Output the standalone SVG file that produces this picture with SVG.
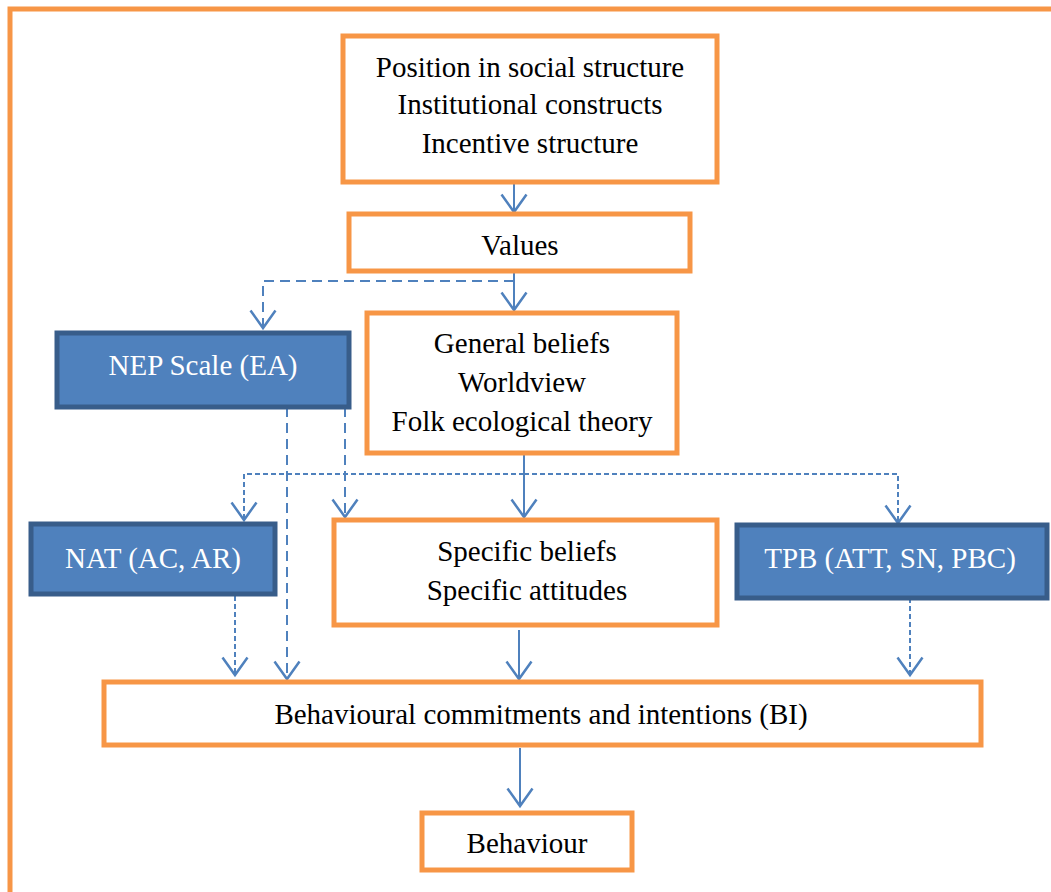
<svg xmlns="http://www.w3.org/2000/svg" width="1051" height="892" viewBox="0 0 1051 892">
<defs>
<marker id="ar" markerUnits="userSpaceOnUse" markerWidth="30" markerHeight="30" viewBox="-16 -12 20 24" refX="0" refY="0" orient="auto">
<path d="M-14,-10 L0,0 L-14,10" fill="none" stroke="#4F81BD" stroke-width="2"/>
</marker>
</defs>
<rect x="10" y="9" width="1060" height="900" fill="none" stroke="#F79646" stroke-width="5"/>
<g id="connectors" fill="none" stroke="#4F81BD" stroke-width="2">
<path d="M514,182 V212" marker-end="url(#ar)"/>
<path d="M514,271 V310" marker-end="url(#ar)"/>
<path d="M514,281 H263 V328" stroke-dasharray="10 6" marker-end="url(#ar)"/>
<path d="M287,407 V679" stroke-dasharray="10 6" marker-end="url(#ar)"/>
<path d="M345,407 V517" stroke-dasharray="10 6" marker-end="url(#ar)"/>
<path d="M524,453 V517" marker-end="url(#ar)"/>
<path d="M524,474 H244 V520" stroke-dasharray="5 3" marker-end="url(#ar)"/>
<path d="M524,474 H898 V523" stroke-dasharray="5 3" marker-end="url(#ar)"/>
<path d="M235,596 V675" stroke-dasharray="5 3" marker-end="url(#ar)"/>
<path d="M519,630 V679" marker-end="url(#ar)"/>
<path d="M910,598 V675" stroke-dasharray="5 3" marker-end="url(#ar)"/>
<path d="M520,748 V806" marker-end="url(#ar)"/>
</g>
<g id="social">
<rect x="343" y="36" width="374" height="146" fill="#fff" stroke="#F79646" stroke-width="5"/>
<text x="530" y="77" font-family="Liberation Serif" font-size="29" text-anchor="middle">Position in social structure</text>
<text x="530" y="114" font-family="Liberation Serif" font-size="29" text-anchor="middle">Institutional constructs</text>
<text x="530" y="153" font-family="Liberation Serif" font-size="29" text-anchor="middle">Incentive structure</text>
</g>
<g id="values">
<rect x="349" y="214" width="341" height="57" fill="#fff" stroke="#F79646" stroke-width="5"/>
<text x="520" y="255" font-family="Liberation Serif" font-size="29" text-anchor="middle">Values</text>
</g>
<g id="general">
<rect x="367" y="313" width="310" height="140" fill="#fff" stroke="#F79646" stroke-width="5"/>
<text x="522" y="353" font-family="Liberation Serif" font-size="29" text-anchor="middle">General beliefs</text>
<text x="522" y="392" font-family="Liberation Serif" font-size="29" text-anchor="middle">Worldview</text>
<text x="522" y="431" font-family="Liberation Serif" font-size="29" text-anchor="middle">Folk ecological theory</text>
</g>
<g id="nep">
<rect x="57" y="333" width="292" height="74" fill="#4F81BD" stroke="#385D8A" stroke-width="5"/>
<text x="203" y="375" font-family="Liberation Serif" font-size="29" text-anchor="middle" fill="#fff">NEP Scale (EA)</text>
</g>
<g id="nat">
<rect x="31" y="524" width="244" height="70" fill="#4F81BD" stroke="#385D8A" stroke-width="5"/>
<text x="153" y="568" font-family="Liberation Serif" font-size="29" text-anchor="middle" fill="#fff">NAT (AC, AR)</text>
</g>
<g id="specific">
<rect x="334" y="520" width="383" height="105" fill="#fff" stroke="#F79646" stroke-width="5"/>
<text x="527" y="561" font-family="Liberation Serif" font-size="29" text-anchor="middle">Specific beliefs</text>
<text x="527" y="600" font-family="Liberation Serif" font-size="29" text-anchor="middle">Specific attitudes</text>
</g>
<g id="tpb">
<rect x="737" y="525" width="310" height="73" fill="#4F81BD" stroke="#385D8A" stroke-width="5"/>
<text x="890" y="568" font-family="Liberation Serif" font-size="29" text-anchor="middle" fill="#fff">TPB (ATT, SN, PBC)</text>
</g>
<g id="bi">
<rect x="104" y="682" width="877" height="63" fill="#fff" stroke="#F79646" stroke-width="5"/>
<text x="541" y="724" font-family="Liberation Serif" font-size="29" text-anchor="middle">Behavioural commitments and intentions (BI)</text>
</g>
<g id="behaviour">
<rect x="422" y="813" width="210" height="57" fill="#fff" stroke="#F79646" stroke-width="5"/>
<text x="527" y="853" font-family="Liberation Serif" font-size="29" text-anchor="middle">Behaviour</text>
</g>
</svg>
